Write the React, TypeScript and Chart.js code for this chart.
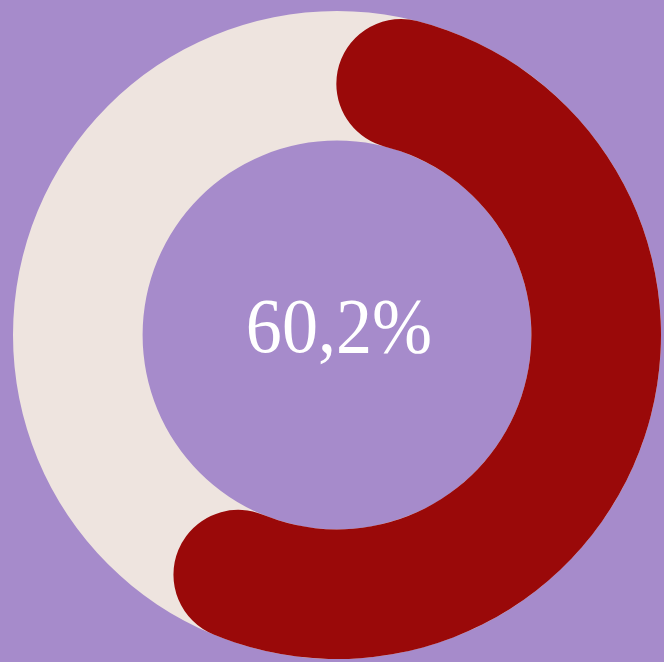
import React, { useEffect, useRef } from "react";
import { Chart, registerables } from "chart.js";

Chart.register(...registerables);

const categories = ["Share", "Rest"];
const values = [60.2, 39.8];
const centerLabel = "60,2%";

const BG = "#a68bcb";
const RED = "#9a0909";
const TRACK = "#eee4df";

const trackPlugin = {
  id: "track",
  beforeDatasetsDraw(chart: any) {
    const meta = chart.getDatasetMeta(0);
    const arc = meta.data[0];
    if (!arc) return;
    const { x, y, innerRadius, outerRadius } = arc;
    const ctx = chart.ctx;
    ctx.save();
    ctx.beginPath();
    ctx.arc(x, y, outerRadius, 0, Math.PI * 2);
    ctx.arc(x, y, innerRadius, Math.PI * 2, 0, true);
    ctx.closePath();
    ctx.fillStyle = TRACK;
    ctx.fill("evenodd");
    ctx.restore();
  },
  afterDraw(chart: any) {
    const arc = chart.getDatasetMeta(0).data[0];
    if (!arc) return;
    const ctx = chart.ctx;
    ctx.save();
    ctx.fillStyle = "#ffffff";
    ctx.font = '78px "Liberation Serif", "Times New Roman", serif';
    ctx.textAlign = "center";
    ctx.textBaseline = "alphabetic";
    ctx.translate(arc.x + 2, 352);
    ctx.scale(0.925, 1);
    ctx.fillText(centerLabel, 0, 0);
    ctx.restore();
  },
};

export default function App() {
  const ref = useRef<HTMLCanvasElement>(null);
  useEffect(() => {
    document.body.style.margin = "0";
    document.body.style.background = BG;
    const chart = new Chart(ref.current!, {
      type: "doughnut",
      data: {
        labels: categories,
        datasets: [
          {
            data: values,
            backgroundColor: [RED, "rgba(0,0,0,0)"],
            borderWidth: 0,
            borderRadius: [999, 0] as any,
          },
        ],
      },
      options: {
        animation: false,
        responsive: true,
        maintainAspectRatio: false,
        cutout: "60%",
        layout: { padding: { left: 13, right: 3, top: 11, bottom: 3 } },
        plugins: {
          legend: { display: false },
          tooltip: { enabled: false },
        },
      },
      plugins: [trackPlugin],
    });
    return () => chart.destroy();
  }, []);
  return (
    <div style={{ width: 664, height: 662, position: "relative", background: BG }}>
      <canvas ref={ref} />
    </div>
  );
}
